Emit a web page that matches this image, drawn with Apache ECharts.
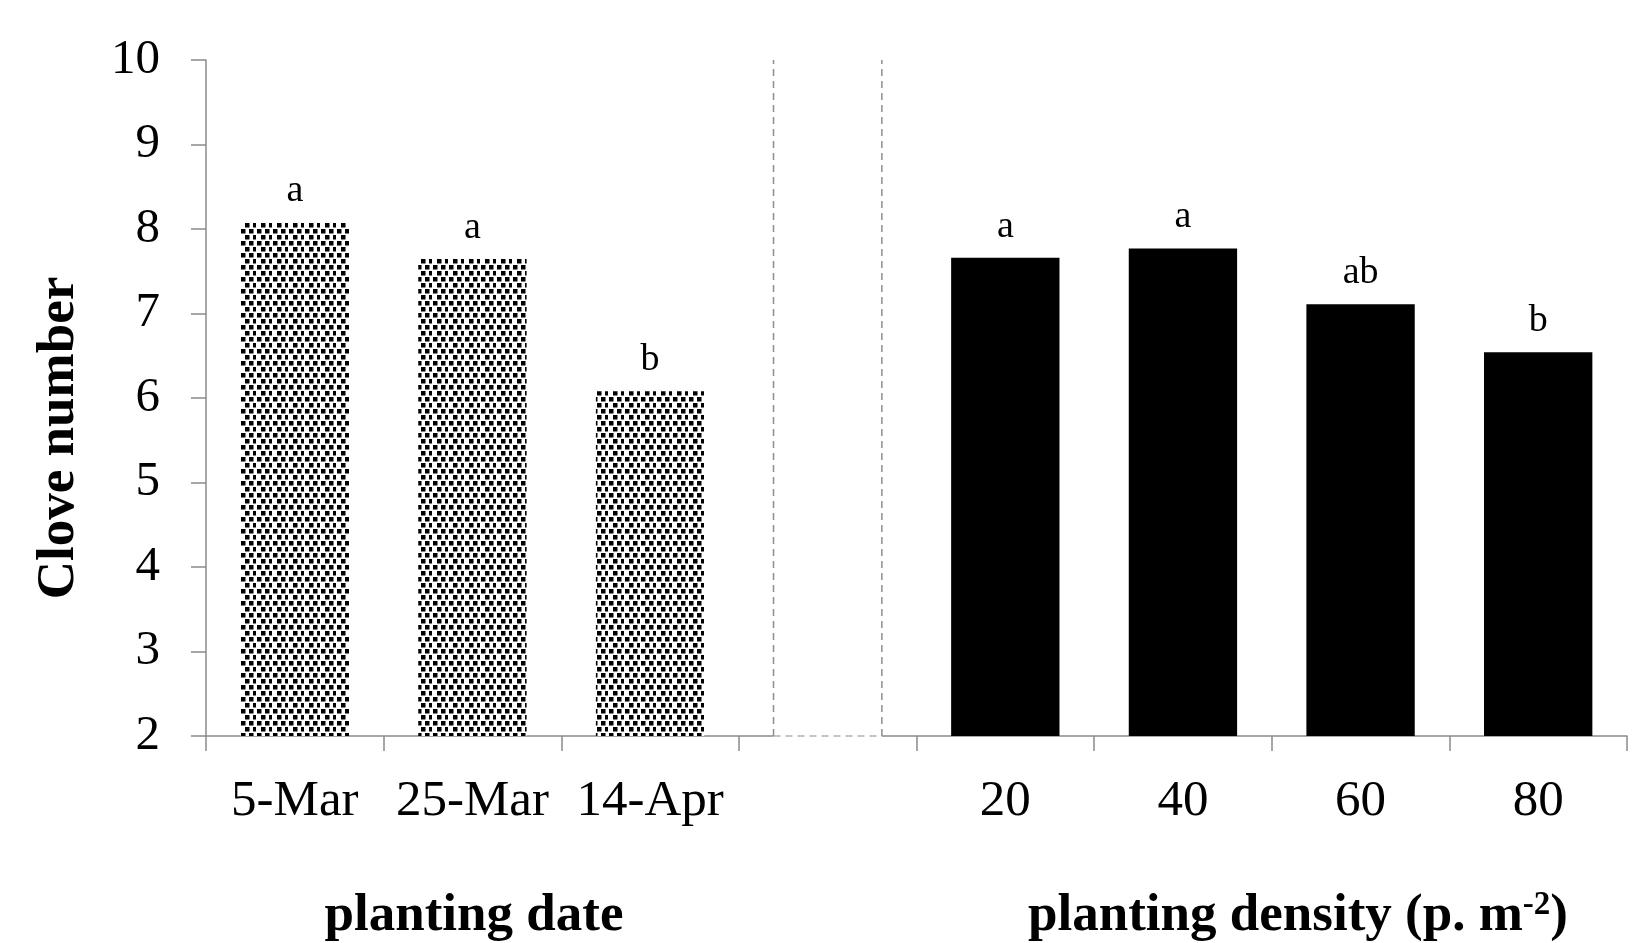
<!DOCTYPE html>
<html>
<head>
<meta charset="utf-8">
<script src="https://cdn.jsdelivr.net/npm/echarts@6/dist/echarts.min.js"></script>
<style>
  html, body { margin: 0; padding: 0; background: #fff; }
  #chart { width: 1649px; height: 943px; }
</style>
</head>
<body>
<div id="chart"></div>
<script>
// Categories on the x axis: three planting dates, an empty spacer slot, four densities
const categories = ['5-Mar', '25-Mar', '14-Apr', '', '20', '40', '60', '80'];

// Mean clove number per planting date
const dateValues = [8.08, 7.65, 6.08];
const dateLetters = ['a', 'a', 'b'];

// Mean clove number per planting density (plants per m²)
const densityValues = [7.66, 7.77, 7.11, 6.54];
const densityLetters = ['a', 'a', 'ab', 'b'];

// Value axis range
const yMin = 2;
const yMax = 10;
const yStep = 1;

const serif = '"Liberation Serif", "Times New Roman", serif';
const axisGray = '#8a8a8a';

// Stippled fill used for the planting-date bars
function stipplePattern() {
  const c = document.createElement('canvas');
  c.width = 16; c.height = 12;
  const g = c.getContext('2d');
  g.fillStyle = '#fff';
  g.fillRect(0, 0, 16, 12);
  g.fillStyle = '#000';
  const dots = [[1, 1], [9, 1], [5, 7], [13, 7]];
  dots.forEach(([x, y]) => g.fillRect(x, y, 4.5, 4.5));
  return c;
}
const stipple = { image: stipplePattern(), repeat: 'repeat' };

// One bar item per category; the spacer slot stays empty
const sepIndex = categories.indexOf('');
const barData = [];
dateValues.forEach((v, i) => barData.push({
  value: v, letter: dateLetters[i], itemStyle: { color: stipple }
}));
barData.push('-');
densityValues.forEach((v, i) => barData.push({
  value: v, letter: densityLetters[i], itemStyle: { color: '#000' }
}));

const chart = echarts.init(document.getElementById('chart'), null, { renderer: 'canvas' });

chart.setOption({
  animation: false,
  backgroundColor: '#fff',
  grid: { left: 206, right: 22, top: 60, bottom: 207, containLabel: false },
  xAxis: {
    type: 'category',
    data: categories,
    axisLine: { lineStyle: { color: axisGray, width: 1.5 } },
    axisTick: { show: true, length: 15, lineStyle: { color: axisGray, width: 1.5 } },
    axisLabel: {
      interval: 0, margin: 40,
      fontFamily: serif, fontSize: 51, color: '#000'
    }
  },
  yAxis: {
    type: 'value',
    min: yMin, max: yMax, interval: yStep,
    splitLine: { show: false },
    axisLine: { show: true, lineStyle: { color: axisGray, width: 1.5 } },
    axisTick: { show: true, length: 15, lineStyle: { color: axisGray, width: 1.5 } },
    axisLabel: {
      margin: 46,
      fontFamily: serif, fontSize: 49, color: '#000'
    }
  },
  series: [
    {
      type: 'bar',
      data: barData,
      barWidth: '61%',
      label: {
        show: true,
        position: 'top',
        distance: 12,
        fontFamily: serif,
        fontSize: 38,
        color: '#000',
        formatter: p => p.data.letter
      }
    },
    {
      // Dashed frame separating the two groups of treatments
      type: 'custom',
      data: [[sepIndex, yMax]],
      z: 3,
      renderItem: function (params, api) {
        const top = api.coord([api.value(0), api.value(1)]);
        const base = api.coord([api.value(0), yMin]);
        const half = api.size([1, 0])[0] * 0.61 / 2;
        const x0 = top[0] - half, x1 = top[0] + half;
        const dash = { stroke: '#8f8f8f', lineWidth: 1.5, lineDash: [7, 5] };
        return {
          type: 'group',
          children: [
            { type: 'line', shape: { x1: x0, y1: base[1], x2: x1, y2: base[1] },
              style: { stroke: '#fff', lineWidth: 2 } },
            { type: 'line', shape: { x1: x0, y1: base[1], x2: x1, y2: base[1] },
              style: Object.assign({}, dash, { stroke: '#b0b0b0' }) },
            { type: 'line', shape: { x1: x0, y1: base[1], x2: x0, y2: top[1] }, style: dash },
            { type: 'line', shape: { x1: x1, y1: base[1], x2: x1, y2: top[1] }, style: dash }
          ]
        };
      }
    }
  ],
  graphic: [
    {
      type: 'text',
      x: 59, y: 438,
      rotation: Math.PI / 2,
      style: {
        text: 'Clove number',
        fontFamily: serif, fontSize: 53, fontWeight: 'bold', fill: '#000',
        align: 'center', verticalAlign: 'middle'
      }
    },
    {
      type: 'text',
      x: 474, y: 916,
      style: {
        text: 'planting date',
        fontFamily: serif, fontSize: 53, fontWeight: 'bold', fill: '#000',
        align: 'center', verticalAlign: 'middle'
      }
    },
    {
      type: 'text',
      x: 1298, y: 916,
      style: {
        text: 'planting density (p. m{sup|-2})',
        fontFamily: serif, fontSize: 53, fontWeight: 'bold', fill: '#000',
        align: 'center', verticalAlign: 'middle',
        rich: {
          sup: {
            fontFamily: serif, fontSize: 33, fontWeight: 'bold', fill: '#000',
            verticalAlign: 'top', padding: [0, 0, 22, 0]
          }
        }
      }
    }
  ]
});
</script>
</body>
</html>
